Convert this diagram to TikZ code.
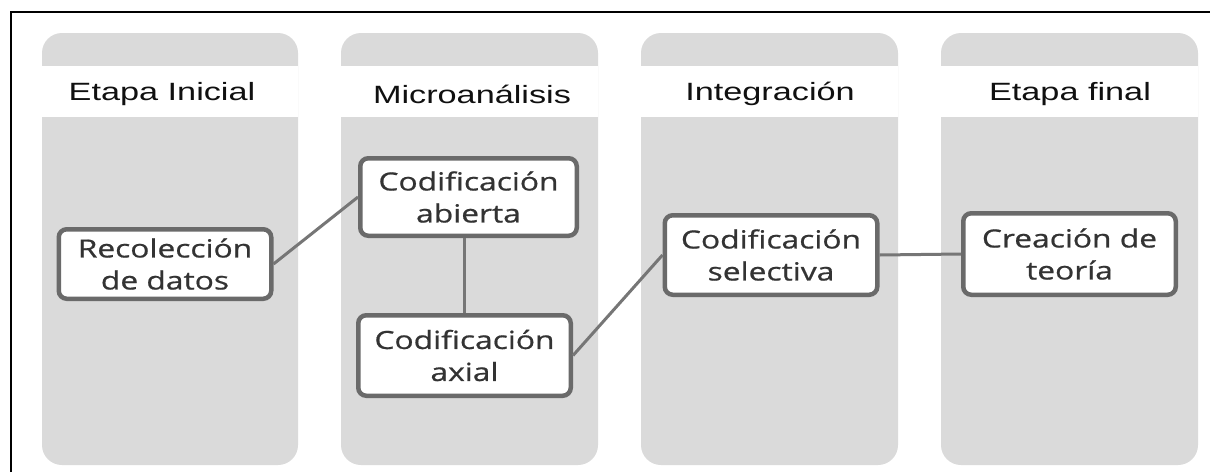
\documentclass[tikz,border=0pt]{standalone}
\usepackage{fontspec}
\newfontfamily\hdrfont[FakeStretch=1.37]{Liberation Sans}
\newfontfamily\boxfont[FakeStretch=1.27,FakeBold=0.7]{Open Sans}
\definecolor{colgray}{HTML}{DADADA}
\definecolor{boxgray}{HTML}{6A6A6A}
\definecolor{linegray}{HTML}{767676}
\definecolor{textgray}{HTML}{333333}
\definecolor{hdrgray}{HTML}{101010}
\tikzset{
  stagebox/.style={draw=boxgray, line width=4.5pt, rounded corners=8pt, fill=white,
    text=textgray, align=center, inner sep=0pt, minimum width=212.5pt,
    font=\boxfont\fontsize{25}{32}\selectfont},
  hdr/.style={text=hdrgray, inner sep=0pt, font=\hdrfont\fontsize{25}{30}\selectfont},
  conn/.style={draw=linegray, line width=3pt},
  column/.style={fill=colgray, rounded corners=20pt},
}
\begin{document}
\begin{tikzpicture}[x=1pt,y=-1pt]
\useasboundingbox (0,0) rectangle (1210,472);
\fill[white] (0,0) rectangle (1210,472);
% columns
\foreach \xa/\xb in {42/298, 341/598, 641/898, 941/1198}{
  \fill[column] (\xa,33) rectangle (\xb,465);
  \fill[white] (\xa,66) rectangle (\xb,117);
}
% frame
\draw[line width=2pt, black] (11,472) -- (11,12) -- (1210,12);
% headers
\node[hdr] (h1) at (162,94) {Etapa Inicial};
\node[hdr] (h2) at (472,94) {Microanálisis};
\node[hdr] (h3) at (770,94) {Integración};
\node[hdr] (h4) at (1070,94) {Etapa final};
% boxes
\node[stagebox, minimum height=69.5pt] (rec) at (165,264) {Recolección\\de datos};
\node[stagebox, minimum height=77.5pt, minimum width=216.5pt] (abi) at (468.5,197) {Codificación\\abierta};
\node[stagebox, minimum height=80.5pt] (axi) at (464.5,355.5) {Codificación\\axial};
\node[stagebox, minimum height=79.5pt] (sel) at (771,255) {Codificación\\selectiva};
\node[stagebox, minimum height=81.5pt] (cre) at (1069.5,254) {Creación de\\teoría};
% connectors
\draw[conn] (rec.east) -- (abi.west);
\draw[conn] (axi.north) -- (axi.north |- abi.south);
\draw[conn] (axi.east) -- (sel.west);
\draw[conn] (sel.east) -- (cre.west);
\end{tikzpicture}
\end{document}
